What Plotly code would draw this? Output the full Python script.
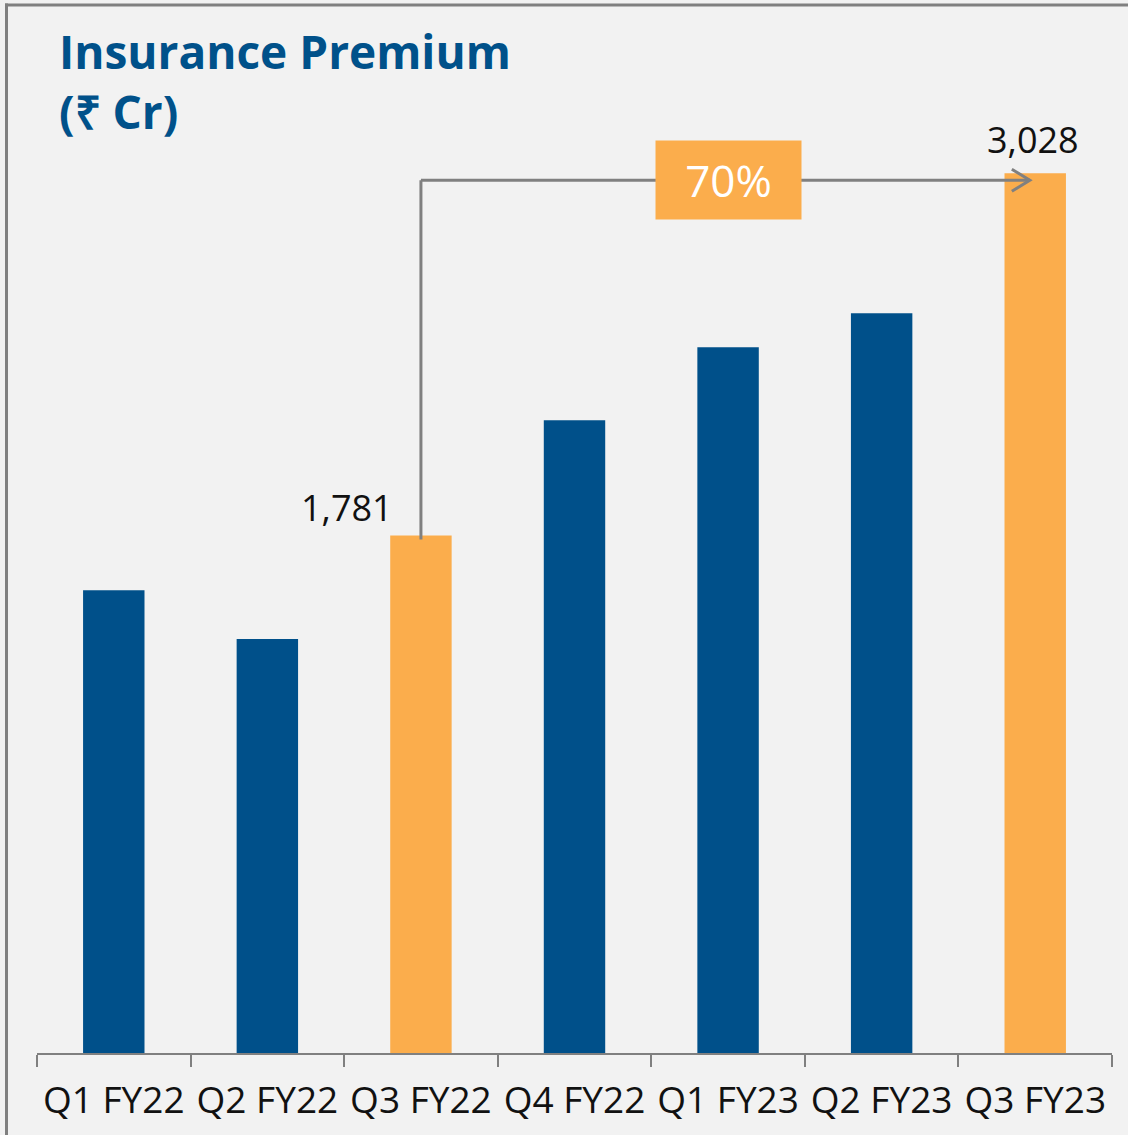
import plotly.graph_objects as go

categories = ["Q1 FY22", "Q2 FY22", "Q3 FY22", "Q4 FY22", "Q1 FY23", "Q2 FY23", "Q3 FY23"]
values = [1593, 1425, 1781, 2178, 2429, 2546, 3028]
highlight = [False, False, True, False, False, False, True]
growth_label = "70%"
title_text = "Insurance Premium<br>(₹ Cr)"

BLUE = "#00508A"
ORANGE = "#FBAD4C"
GRAY = "#808080"
BG = "#F2F2F2"
FONT = "Open Sans"

W, H = 1128, 1135
L, R, T, B = 37, 16, 100, 82
plot_w = W - L - R
plot_h = H - T - B


def px_x(p):
    return (p - L) / plot_w


def px_y(p):
    return (H - B - p) / plot_h


colors = [ORANGE if h else BLUE for h in highlight]
hi = [i for i, h in enumerate(highlight) if h]
i0, i1 = hi[0], hi[-1]
y_top = 3280
arrow_y = values[i1] * 0.992

fig = go.Figure(go.Bar(x=categories, y=values, marker_color=colors,
                       marker_line_width=0, width=0.4, hoverinfo="x+y"))

fig.update_layout(
    width=W, height=H,
    margin=dict(l=L, r=R, t=T, b=B, autoexpand=False),
    paper_bgcolor=BG, plot_bgcolor=BG,
    showlegend=False,
    xaxis=dict(range=[-0.5, len(categories) - 0.5], showline=True, linecolor=GRAY,
               linewidth=2, ticks="outside", tickson="boundaries", ticklen=12,
               tickwidth=2, tickcolor=GRAY, showgrid=False, ticklabelstandoff=14,
               tickangle=0, automargin=False,
               tickfont=dict(family=FONT, size=37, color="#111111")),
    yaxis=dict(range=[0, y_top], visible=False, showgrid=False, automargin=False),
)

shapes = [
    # frame
    dict(type="line", xref="paper", yref="paper", x0=px_x(6.5), x1=px_x(6.5),
         y0=px_y(3.5), y1=px_y(H + 5), line=dict(color=GRAY, width=3)),
    dict(type="line", xref="paper", yref="paper", x0=px_x(5), x1=px_x(W + 5),
         y0=px_y(5), y1=px_y(5), line=dict(color=GRAY, width=3)),
    # connector
    dict(type="line", xref="x", yref="y", x0=i0, x1=i0, y0=values[i0] - 14, y1=arrow_y,
         line=dict(color=GRAY, width=3)),
    dict(type="line", xref="x", yref="y", x0=i0, x1=i1 - 0.035, y0=arrow_y, y1=arrow_y,
         line=dict(color=GRAY, width=3)),
    dict(type="path", xref="x", yref="y", xsizemode="pixel", ysizemode="pixel",
         xanchor=i1 - 0.035, yanchor=arrow_y, path="M -18,11 L 0,0 L -18,-11",
         line=dict(color=GRAY, width=3)),
]

annotations = [
    dict(xref="paper", yref="paper", x=px_x(57), y=px_y(18), xanchor="left", yanchor="top",
         align="left", showarrow=False, text="<b>" + title_text + "</b>",
         font=dict(family=FONT, size=46, color="#00518A")),
    dict(xref="x", yref="y", x=i0, y=values[i0], xanchor="right", yanchor="middle",
         xshift=-26, yshift=28, showarrow=False, text=f"{values[i0]:,}",
         font=dict(family=FONT, size=36, color="#111111")),
    dict(xref="x", yref="y", x=i1, y=values[i1], xanchor="center", yanchor="middle",
         xshift=-2, yshift=34, showarrow=False, text=f"{values[i1]:,}",
         font=dict(family=FONT, size=36, color="#111111")),
    dict(xref="x", yref="y", x=(i0 + i1) / 2, y=arrow_y, xanchor="center", yanchor="middle",
         showarrow=False, text=growth_label, bgcolor=ORANGE, width=143, height=76,
         font=dict(family=FONT, size=44, color="white")),
]

fig.update_layout(shapes=shapes, annotations=annotations)
fig.write_html("out.html",
               config=dict(displayModeBar=False),
               post_script="document.body.style.margin='0';"
                           "document.body.style.overflow='hidden';"
                           "document.body.style.background='#F2F2F2';")
